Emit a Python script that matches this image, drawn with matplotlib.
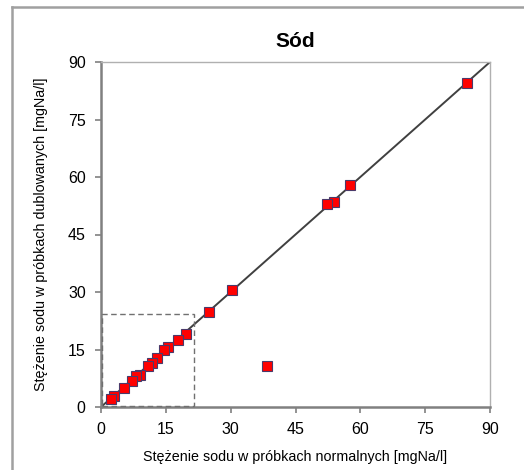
import matplotlib
matplotlib.use("Agg")
import matplotlib.pyplot as plt
from matplotlib.lines import Line2D
from matplotlib.patches import Rectangle

plt.rcParams['font.family'] = ['Liberation Sans', 'DejaVu Sans']

normal = [84.6, 57.6, 54.0, 52.4, 30.3, 25.0, 38.3, 19.6, 17.9, 15.4, 14.5, 12.9,
          11.9, 10.8, 9.0, 8.1, 7.2, 5.3, 3.0, 2.2]
dubl = [84.6, 57.9, 53.5, 53.0, 30.4, 24.8, 10.7, 19.0, 17.4, 15.7, 14.9, 12.9,
        11.6, 10.7, 8.3, 8.2, 6.9, 5.0, 2.8, 2.1]
ticks = [0, 15, 30, 45, 60, 75, 90]
title = "Sód"
xlabel = "Stężenie sodu w próbkach normalnych [mgNa/l]"
ylabel = "Stężenie sodu w próbkach dublowanych [mgNa/l]"
zoom_box = (21.3, 24.0)

fig = plt.figure(figsize=(5.24, 4.70), dpi=100)
ax = fig.add_axes([101/524, 63/470, 389/524, 345/470])

ax.plot([0, 90], [0, 90], color='#404040', lw=1.4, zorder=2)
ax.add_patch(Rectangle((0.3, 0.3), zoom_box[0], zoom_box[1], fill=False,
                       ls=(0, (4, 2.5)), ec='#707070', lw=1.0, zorder=4, clip_on=False))
ax.plot(normal, dubl, ls='none', marker='s', ms=6.8, mfc='#ff0000',
        mec='#4a3a6a', mew=0.8, zorder=3)

ax.set_xlim(0, 90)
ax.set_ylim(0, 90)
ax.set_xticks(ticks)
ax.set_yticks(ticks)
ax.tick_params(direction='out', length=4, width=1.2, color='#808080',
               labelsize=11.5, pad=7)
for s in ['left', 'bottom']:
    ax.spines[s].set_color('#808080')
    ax.spines[s].set_linewidth(1.8)
for s in ['top', 'right']:
    ax.spines[s].set_color('#b0b0b0')
    ax.spines[s].set_linewidth(1.0)

ax.set_title(title, fontsize=15, fontweight='bold', pad=11)
ax.set_xlabel(xlabel, fontsize=10.3, labelpad=9)
ax.set_ylabel(ylabel, fontsize=10.3, labelpad=14)

# outer frame (partially visible)
fig.add_artist(Line2D([12/524, 12/524], [0, 1 - 7/470], transform=fig.transFigure,
                      color='#a0a0a0', lw=1.8))
fig.add_artist(Line2D([12/524, 1], [1 - 7/470, 1 - 7/470], transform=fig.transFigure,
                      color='#a0a0a0', lw=1.8))

fig.savefig('out.png', dpi=100)
